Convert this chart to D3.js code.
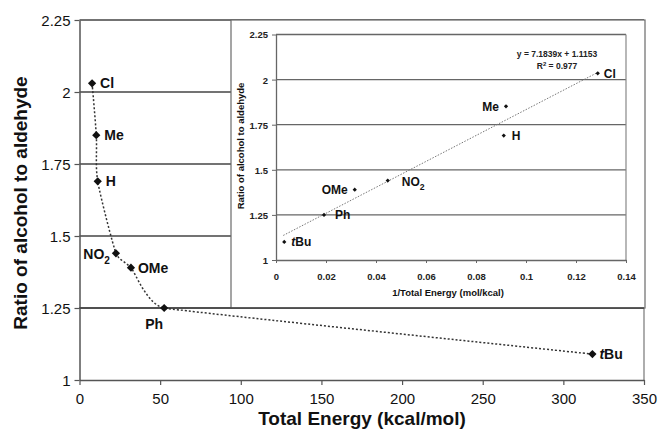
<!DOCTYPE html>
<html><head><meta charset="utf-8">
<script src="https://cdn.jsdelivr.net/npm/d3@7/dist/d3.min.js"></script>
<style>body{margin:0;background:#fff}svg{display:block;font-family:Arial,"Liberation Sans",sans-serif}</style>
</head><body><svg id="c" width="659" height="431"></svg>
<script>
// ---- data ----
const substituents = ["Cl","Me","H","NO2","OMe","Ph","tBu"];
const totalEnergy = [7.8, 10.4, 11.3, 22.6, 31.9, 52.5, 318];
const ratio = [2.03, 1.85, 1.69, 1.44, 1.39, 1.25, 1.09];
const inverseEnergy = [0.1287, 0.092, 0.0911, 0.0447, 0.0315, 0.0192, 0.0033];
const insetRatio = [2.035, 1.852, 1.69, 1.44, 1.39, 1.25, 1.10];
const mainXTicks = [0,50,100,150,200,250,300,350];
const mainYTicks = [1,1.25,1.5,1.75,2,2.25];
const insetXTicks = [0,0.02,0.04,0.06,0.08,0.1,0.12,0.14];
const insetYTicks = [1,1.25,1.5,1.75,2,2.25];
const trendSlope = 7.1839, trendIntercept = 1.1153, trendRange = [0.0029, 0.1287];
const equationText = "y = 7.1839x + 1.1153", r2Text = "0.977";

const svg = d3.select("#c");
const fmt = d => String(d);

// spreadsheet-style smoothing curve (no overshoot on uneven spacing)
function SmoothCurve(context){ this._context = context; }
SmoothCurve.prototype = {
  areaStart(){}, areaEnd(){},
  lineStart(){ this._p = []; },
  point(x,y){ this._p.push([+x,+y]); },
  lineEnd(){
    const p = this._p, c = this._context, n = p.length;
    if(!n) return;
    c.moveTo(p[0][0],p[0][1]);
    const tan = p.map((q,i)=>{
      const a = p[Math.max(0,i-1)], b = p[Math.min(n-1,i+1)];
      const dx=b[0]-a[0], dy=b[1]-a[1], L=Math.hypot(dx,dy)||1;
      return [dx/L,dy/L];
    });
    const len = (a,b)=>Math.hypot(b[0]-a[0],b[1]-a[1]);
    for(let i=0;i<n-1;i++){
      const a=p[i], b=p[i+1];
      const la = Math.min(len(a,b), i>0?len(p[i-1],a):len(a,b))/3;
      const lb = Math.min(len(a,b), i+2<n?len(b,p[i+2]):len(a,b))/3;
      const da = i===0?0:la, db = i+1===n-1?0:lb;
      c.bezierCurveTo(a[0]+tan[i][0]*da, a[1]+tan[i][1]*da, b[0]-tan[i+1][0]*db, b[1]-tan[i+1][1]*db, b[0], b[1]);
    }
  }
};
const curveSmooth = ctx => new SmoothCurve(ctx);

// ---- main chart ----
const x = d3.scaleLinear().domain([0,350]).range([79.5,644]);
const y = d3.scaleLinear().domain([1,2.25]).range([380,20]);
const g = svg.append("g");

g.selectAll(".mg").data(mainYTicks.filter(d=>d>1)).join("line")
  .attr("x1",x(0)).attr("x2",x(350)).attr("y1",d=>y(d)).attr("y2",d=>y(d))
  .attr("stroke","#444").attr("stroke-width",1.5);
g.append("line").attr("x1",x(350)).attr("x2",x(350)).attr("y1",y(2.25)).attr("y2",y(1))
  .attr("stroke","#777").attr("stroke-width",1.2);

const ax = g.append("g").attr("transform",`translate(0,${y(1)})`)
  .call(d3.axisBottom(x).tickValues(mainXTicks).tickFormat(fmt).tickSize(5).tickSizeOuter(0));
const ay = g.append("g").attr("transform",`translate(${x(0)},0)`)
  .call(d3.axisLeft(y).tickValues(mainYTicks).tickFormat(fmt).tickSize(5).tickSizeOuter(0));
[ax,ay].forEach(a=>{
  a.select(".domain").attr("stroke","#555").attr("stroke-width",1.5);
  a.selectAll(".tick line").attr("stroke","#555").attr("stroke-width",1.2);
  a.selectAll(".tick text").attr("font-size",15).attr("fill","#111").attr("font-family","Arial, 'Liberation Sans', sans-serif");
});
ax.selectAll(".tick text").attr("dy","1.05em");
ay.selectAll(".tick text").attr("x",-9).attr("dy","0.36em");

svg.append("text").attr("x",362).attr("y",425).attr("text-anchor","middle")
  .attr("font-size",19).attr("font-weight","bold").attr("fill","#111").text("Total Energy (kcal/mol)");
svg.append("text").attr("transform","translate(27,203) rotate(-90)").attr("text-anchor","middle")
  .attr("font-size",19).attr("font-weight","bold").attr("fill","#111").text("Ratio of alcohol to aldehyde");

// ---- inset box ----
svg.append("rect").attr("x",231).attr("y",20).attr("width",414).attr("height",288)
  .attr("fill","#fff").attr("stroke","#6a6a6a").attr("stroke-width",1.2);
svg.append("line").attr("x1",x(0)).attr("x2",x(350)).attr("y1",y(1.25)).attr("y2",y(1.25))
  .attr("stroke","#444").attr("stroke-width",1.5);

// main smoothed dotted line
const pts = totalEnergy.map((e,i)=>[x(e),y(ratio[i])]);
svg.append("path").attr("d",d3.line().curve(curveSmooth)(pts))
  .attr("fill","none").attr("stroke","#333").attr("stroke-width",1.5).attr("stroke-dasharray","2,2");

svg.selectAll(".mm").data(pts).join("path")
  .attr("d",d3.symbol().type(d3.symbolSquare).size(34)())
  .attr("transform",d=>`translate(${d[0]},${d[1]}) rotate(45)`).attr("fill","#111");

const mainLab = {Cl:[8,0,"start"],Me:[8,0,"start"],H:[8,0,"start"],NO2:[-6,1,"end"],OMe:[7,0,"start"],Ph:[-1,16,"end"],tBu:[7,0,"start"]};
function addLabel(sel, name, px, py, off, size){
  const t = sel.append("text").attr("x",px+off[0]).attr("y",py+off[1]).attr("dy","0.36em")
    .attr("text-anchor",off[2]).attr("font-size",size).attr("font-weight","bold").attr("fill","#111");
  if(name==="NO2"){ t.append("tspan").text("NO"); t.append("tspan").attr("font-size",size*0.72).attr("dy",size*0.3).text("2"); }
  else if(name==="tBu"){ t.append("tspan").attr("font-style","italic").text("t"); t.append("tspan").text("Bu"); }
  else t.text(name);
}
substituents.forEach((s,i)=>addLabel(svg,s,pts[i][0],pts[i][1],mainLab[s],14));

// ---- inset chart ----
const xi = d3.scaleLinear().domain([0,0.14]).range([276,626]);
const yi = d3.scaleLinear().domain([1,2.25]).range([260,34.5]);
const gi = svg.append("g");
gi.selectAll(".ig").data(insetYTicks.filter(d=>d>1)).join("line")
  .attr("x1",xi(0)).attr("x2",xi(0.14)).attr("y1",d=>yi(d)).attr("y2",d=>yi(d))
  .attr("stroke","#666").attr("stroke-width",1.3);
gi.append("line").attr("x1",xi(0.14)).attr("x2",xi(0.14)).attr("y1",yi(2.25)).attr("y2",yi(1))
  .attr("stroke","#888").attr("stroke-width",1.2);
const iax = gi.append("g").attr("transform",`translate(0,${yi(1)})`)
  .call(d3.axisBottom(xi).tickValues(insetXTicks).tickFormat(fmt).tickSize(3).tickSizeOuter(0));
const iay = gi.append("g").attr("transform",`translate(${xi(0)},0)`)
  .call(d3.axisLeft(yi).tickValues(insetYTicks).tickFormat(fmt).tickSize(4).tickSizeOuter(0));
[iax,iay].forEach(a=>{
  a.select(".domain").attr("stroke","#666").attr("stroke-width",1.3);
  a.selectAll(".tick line").attr("stroke","#666");
  a.selectAll(".tick text").attr("font-size",9.5).attr("font-weight","bold").attr("fill","#222").attr("font-family","Arial, 'Liberation Sans', sans-serif");
});
iax.selectAll(".tick text").attr("dy","1.5em");
iay.selectAll(".tick text").attr("x",-8).attr("dy","0.36em");
svg.append("text").attr("x",448).attr("y",296).attr("text-anchor","middle")
  .attr("font-size",9.5).attr("font-weight","bold").attr("fill","#111").text("1/Total Energy (mol/kcal)");
svg.append("text").attr("transform","translate(244,146) rotate(-90)").attr("text-anchor","middle")
  .attr("font-size",9.5).attr("font-weight","bold").attr("fill","#111").text("Ratio of alcohol to aldehyde");

svg.append("line").attr("x1",xi(trendRange[0])).attr("y1",yi(trendSlope*trendRange[0]+trendIntercept))
  .attr("x2",xi(trendRange[1])).attr("y2",yi(trendSlope*trendRange[1]+trendIntercept))
  .attr("stroke","#777").attr("stroke-width",1).attr("stroke-dasharray","1.5,1.5");
svg.append("text").attr("x",557).attr("y",57).attr("text-anchor","middle").attr("font-size",8.5)
  .attr("font-weight","bold").attr("fill","#222").text(equationText);
const r2 = svg.append("text").attr("x",557).attr("y",69).attr("text-anchor","middle").attr("font-size",8.5)
  .attr("font-weight","bold").attr("fill","#222");
r2.append("tspan").text("R");
r2.append("tspan").attr("font-size",6).attr("dy",-3).text("2");
r2.append("tspan").attr("dy",3).text(" = " + r2Text);

const ipts = inverseEnergy.map((v,i)=>[xi(v),yi(insetRatio[i])]);
svg.selectAll(".ip").data(ipts).join("path")
  .attr("d",d3.symbol().type(d3.symbolSquare).size(9)())
  .attr("transform",d=>`translate(${d[0]},${d[1]}) rotate(45)`).attr("fill","#111");
const insetLab = {Cl:[6,0,"start"],Me:[-7,0,"end"],H:[8,0,"start"],NO2:[14,1,"start"],OMe:[-7,0,"end"],Ph:[11,0,"start"],tBu:[7,0,"start"]};
substituents.forEach((s,i)=>addLabel(svg,s,ipts[i][0],ipts[i][1],insetLab[s],12));
</script></body></html>
